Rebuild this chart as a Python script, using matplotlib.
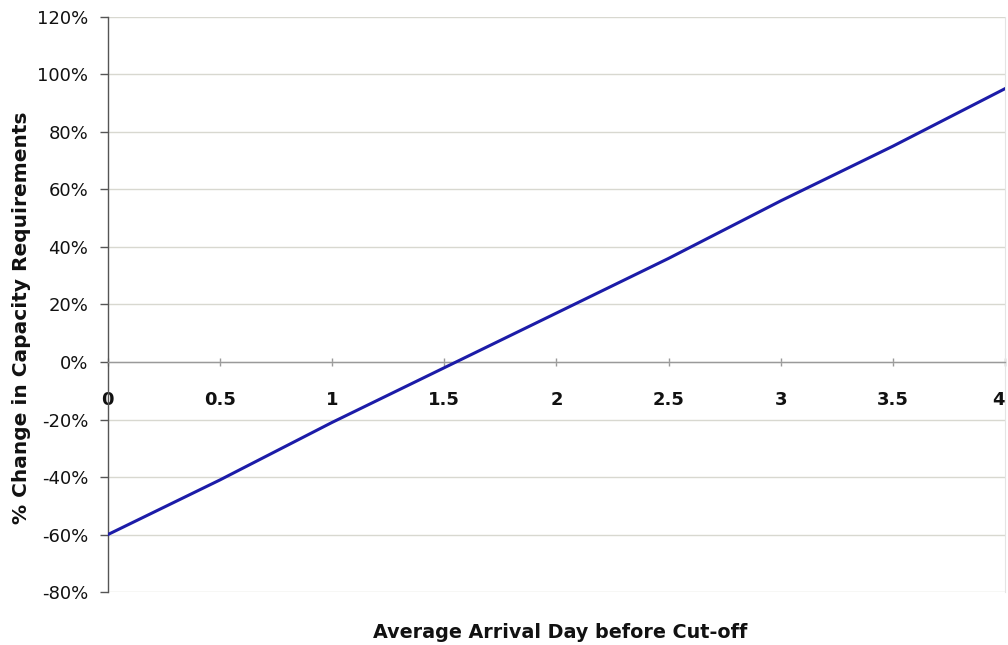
import matplotlib
matplotlib.use("Agg")
import matplotlib.pyplot as plt
from matplotlib.ticker import FuncFormatter

# Data
arrival_day = [0, 0.5, 1, 1.5, 2, 2.5, 3, 3.5, 4]
capacity_change = [-60, -41, -21, -2, 17, 36, 56, 75, 95]

x_ticks = [0, 0.5, 1, 1.5, 2, 2.5, 3, 3.5, 4]
x_tick_labels = ["0", "0.5", "1", "1.5", "2", "2.5", "3", "3.5", "4"]
y_ticks = [-80, -60, -40, -20, 0, 20, 40, 60, 80, 100, 120]

fig = plt.figure(figsize=(10.08, 6.45), dpi=100)
ax = fig.add_axes([0.107, 0.082, 0.890, 0.892])

ax.plot(arrival_day, capacity_change, color="#1c1ca8", linewidth=2.2, zorder=3)

ax.set_xlim(0, 4)
ax.set_ylim(-80, 120)
ax.set_yticks(y_ticks)
ax.yaxis.set_major_formatter(FuncFormatter(lambda v, p: f"{int(v)}%"))
ax.set_xticks(x_ticks)
ax.set_xticklabels(x_tick_labels)

# grid
ax.grid(axis="y", color="#d8d8d0", linewidth=1.0, zorder=0)
ax.set_axisbelow(True)

# spines
ax.spines["left"].set_color("#555555")
ax.spines["left"].set_linewidth(1.0)
ax.spines["bottom"].set_position(("data", 0))
ax.spines["bottom"].set_color("#9a9a9a")
ax.spines["bottom"].set_linewidth(1.0)
ax.spines["top"].set_visible(False)
ax.spines["right"].set_color("#e4e4e4")

ax.tick_params(axis="y", direction="out", length=6, width=1, color="#555555",
               labelsize=13, pad=8, labelcolor="#111111")
ax.tick_params(axis="x", direction="inout", length=6, width=1, color="#9a9a9a",
               labelsize=13, pad=18, labelcolor="#111111")
xlabels = ax.get_xticklabels()
for lbl in xlabels:
    lbl.set_fontweight("bold")
xlabels[-1].set_horizontalalignment("right")

fig.text(0.021, 0.508, "% Change in Capacity Requirements", rotation=90,
         ha="center", va="center", fontsize=14.5, fontweight="bold", color="#111111")
fig.text(0.556, 0.02, "Average Arrival Day before Cut-off",
         ha="center", va="center", fontsize=13.8, fontweight="bold", color="#111111")

fig.savefig("out.png", dpi=100, facecolor="white")
